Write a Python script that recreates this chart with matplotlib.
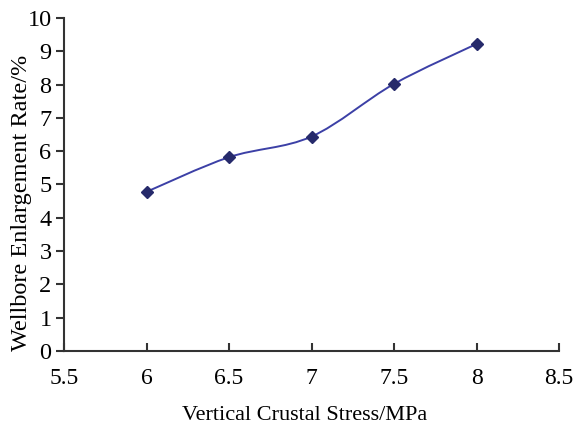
import numpy as np
import matplotlib.pyplot as plt
from matplotlib.path import Path
from matplotlib.patches import PathPatch

stress = [6.0, 6.5, 7.0, 7.5, 8.0]
rate = [4.78, 5.82, 6.44, 8.02, 9.22]

plt.rcParams['font.family'] = ['Liberation Serif', 'DejaVu Serif']

fig = plt.figure(figsize=(5.75, 4.26), dpi=100)
ax = fig.add_axes([64 / 575, 1 - 351 / 426, (559 - 64) / 575, (351 - 18) / 426])

# smoothed line (bezier through the points, like a spreadsheet chart)
pts = np.column_stack([stress, rate])
verts = [tuple(pts[0])]
codes = [Path.MOVETO]
for i in range(len(pts) - 1):
    p0 = pts[i - 1] if i > 0 else pts[i]
    p1 = pts[i]
    p2 = pts[i + 1]
    p3 = pts[i + 2] if i + 2 < len(pts) else pts[i + 1]
    c1 = p1 + (p2 - p0) / 6.0
    c2 = p2 - (p3 - p1) / 6.0
    verts += [tuple(c1), tuple(c2), tuple(p2)]
    codes += [Path.CURVE4] * 3
ax.add_patch(PathPatch(Path(verts, codes), facecolor='none',
                       edgecolor='#3c40a6', lw=1.4))
ax.plot(stress, rate, ls='none', marker='D', ms=6, color='#262a6b')

ax.set_xlim(5.5, 8.5)
ax.set_ylim(0, 10)
ax.set_xticks([5.5, 6, 6.5, 7, 7.5, 8, 8.5])
ax.set_xticklabels(['5.5', '6', '6.5', '7', '7.5', '8', '8.5'])
ax.set_yticks(range(0, 11))

for s in ['top', 'right']:
    ax.spines[s].set_visible(False)
for s in ['left', 'bottom']:
    ax.spines[s].set_linewidth(1.5)
    ax.spines[s].set_color('#333333')

ax.tick_params(axis='x', direction='in', length=6, width=1.5, color='#333333',
               labelsize=17, pad=12)
ax.tick_params(axis='y', direction='out', length=6, width=1.5, color='#333333',
               labelsize=17.5, pad=3)

ax.set_xlabel('Vertical Crustal Stress/MPa', fontsize=16, va='center')
ax.xaxis.set_label_coords((305 - 64) / 495, (351 - 416) / 333)
ax.set_ylabel('Wellbore Enlargement Rate/%', fontsize=17.5, va='center')
ax.yaxis.set_label_coords((22 - 64) / 495, (351 - 203) / 333)

fig.savefig('out.png', dpi=100)
